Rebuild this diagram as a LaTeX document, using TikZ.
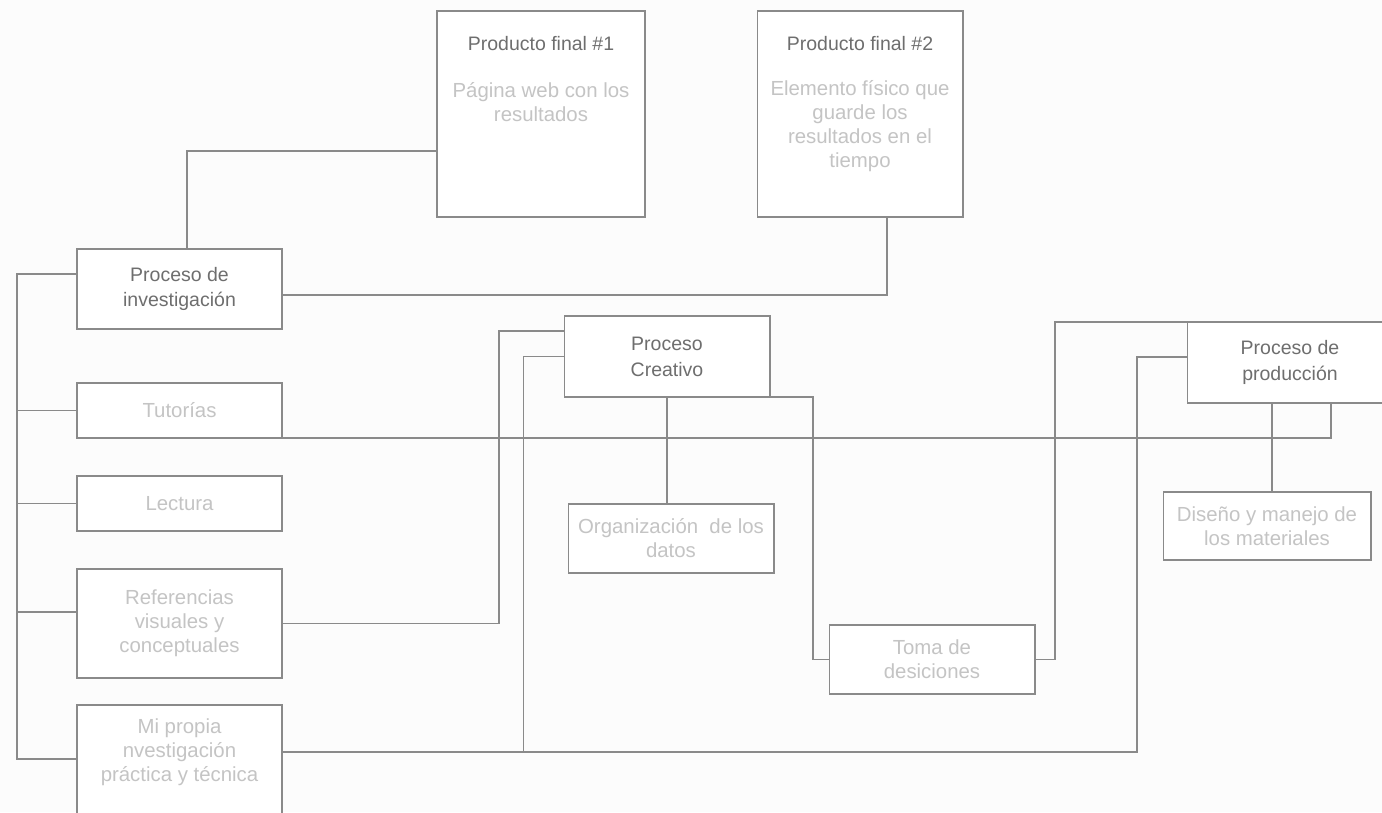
\documentclass[tikz,border=0pt]{standalone}
\usepackage{fontspec}
\setmainfont{Liberation Sans}
\usetikzlibrary{positioning}
\definecolor{linec}{HTML}{8A8A8A}
\definecolor{titlec}{HTML}{6E6E6E}
\definecolor{bodyc}{HTML}{C4C4C4}
\definecolor{bgc}{HTML}{FCFCFC}
\tikzset{
	box/.style={draw=linec,fill=white,line width=.6pt,inner sep=0pt,outer sep=0pt,align=center,minimum width=4.12cm},
	head/.style={align=center,text=titlec,font=\fontsize{11.1}{14.7}\selectfont},
	soft/.style={align=center,text=bodyc,font=\fontsize{11.6}{13.6}\selectfont},
	link/.style={draw=linec,line width=.6pt}
}
\begin{document}
\begin{tikzpicture}[x=0.02cm,y=-0.02cm]
	\fill[bgc] (0,0) rectangle (1382,812);
	\useasboundingbox (0,0) rectangle (1382,812);
	\node[box,minimum width=4.16cm,minimum height=4.12cm] (pf1) at (541,114) {};
	\node[head] (pf1t) at (541,44) {Producto final \#1};
	\node[soft] (pf1b) at (541,102) {Página web con los\\resultados};
	\node[box,minimum height=4.12cm] (pf2) at (860,114) {};
	\node[head] (pf2t) at (860,44) {Producto final \#2};
	\node[soft] (pf2b) at (860,126) {Elemento físico que\\guarde los\\resultados en el\\tiempo};
	\node[box,head,minimum width=4.1cm,minimum height=1.6cm] (inv) at (179.5,289) {Proceso de\\investigación};
	\node[box,soft,minimum width=4.1cm,minimum height=1.1cm] (tut) at (179.5,410.5) {Tutorías};
	\node[box,soft,minimum width=4.1cm,minimum height=1.1cm] (lec) at (179.5,503.5) {Lectura};
	\node[box,soft,minimum width=4.1cm,minimum height=2.18cm] (ref) at (179.5,623.5) {Referencias\\visuales y\\conceptuales};
	\node[box,minimum width=4.1cm,minimum height=2.4cm] (mip) at (179.5,765) {};
	\node[soft] (mipt) at (179.5,752) {Mi propia\\nvestigación\\práctica y técnica};
	\node[box,head,minimum height=1.62cm] (crea) at (667,356.5) {Proceso\\Creativo};
	\node[box,soft,minimum height=1.38cm] (org) at (671,538.5) {Organización~ de los\\datos};
	\node[box,soft,minimum height=1.38cm] (toma) at (932,659.5) {Toma de\\desiciones};
	\node[box,head,minimum height=1.62cm] (prod) at (1290,362.5) {Proceso de\\producción};
	\node[box,soft,minimum width=4.16cm,minimum height=1.36cm] (dis) at (1267,526) {Diseño y manejo de\\los materiales};
	\draw[link] ([xshift=.15cm]inv.north) |- ([yshift=-.74cm]pf1.west);
	\draw[link] ([yshift=-.12cm]inv.east) -| ([xshift=.54cm]pf2.south);
	\draw[link] ([yshift=.3cm]inv.west) -- ++(-60,0) |- ([yshift=.12cm]mip.west);
	\draw[link] (tut.west) -- ++(-60,0);
	\draw[link] (lec.west) -- ++(-60,0);
	\draw[link] ([yshift=.23cm]ref.west) -- ++(-60,0);
	\draw[link] (tut.south west) -| ([xshift=.82cm]prod.south);
	\draw[link] (ref.east) -- ++(217,0) |- ([yshift=.51cm]crea.west);
	\draw[link] ([yshift=.26cm]mip.east) -- ++(855,0) |- ([yshift=.11cm]prod.west);
	\draw[link] ([xshift=4.84cm,yshift=.26cm]mip.east) |- (crea.west);
	\draw[link] (crea.south) -- (crea.south |- org.north);
	\draw[link] (crea.south east) -- ++(43,0) |- (toma.west);
	\draw[link] (toma.east) -- ++(20,0) |- (prod.north west);
	\draw[link] ([xshift=-.36cm]prod.south) -- ([xshift=-.36cm]prod.south |- dis.north);
\end{tikzpicture}
\end{document}
